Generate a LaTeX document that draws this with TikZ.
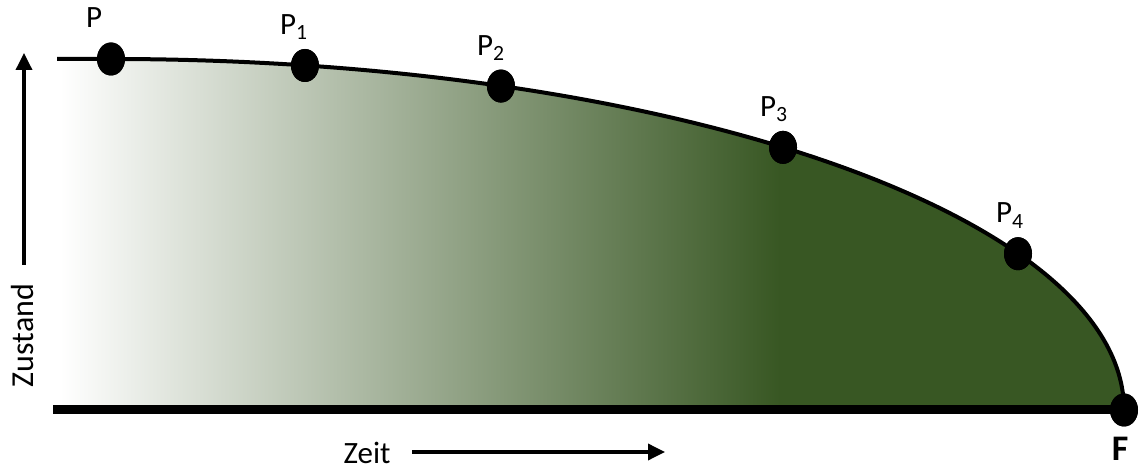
\documentclass[tikz,border=0pt]{standalone}
\usepackage{fontspec}
\setmainfont{Carlito}
\usetikzlibrary{arrows.meta,shapes.geometric}
\definecolor{zgreen}{HTML}{385723}
\begin{document}
\begin{tikzpicture}[x=1pt,y=1pt,
  dot/.style={ellipse,fill=black,inner sep=0pt,minimum width=28pt,minimum height=33pt},
  lbl/.style={anchor=base west,font=\fontsize{31}{36}\selectfont,inner sep=0pt},
  axisarrow/.style={line width=3.5pt,-{Triangle[length=17pt,width=16pt]}},
  curveline/.style={line width=4pt},
  baseline/.style={line width=9pt},
]
\useasboundingbox (0,0) rectangle (1139,470);
\coordinate (c) at (111,60);
% filled region with gradient
\begin{scope}
\clip (60,60) -- (60,411) -- (111,411) arc[start angle=90,end angle=0,x radius=1013,y radius=351] -- cycle;
\shade[left color=white,right color=zgreen] (60,60) rectangle (780,411);
\fill[zgreen] (779.5,60) rectangle (1130,411);
\end{scope}
% dots
\node[dot] (p) at (111,411) {};
\path (c) ++(78.96:1013pt and 351pt) node[dot] (p1) {};
\path (c) ++(67.36:1013pt and 351pt) node[dot] (p2) {};
\path (c) ++(48.44:1013pt and 351pt) node[dot] (p3) {};
\path (c) ++(26.44:1013pt and 351pt) node[dot] (p4) {};
\node[dot] (f) at (1124,60) {};
% base line and curve
\coordinate (o) at (53,60);
\coordinate (s) at (57,411);
\draw[baseline] (o) -- (f.center);
\draw[curveline] (s) -- (p.center) arc[start angle=90,end angle=0,x radius=1013,y radius=351];
% redraw dots on top
\foreach \n in {p,p1,p2,p3,p4,f} \fill (\n.center) ellipse[x radius=14pt,y radius=16.5pt];
% labels
\node[lbl] (lp) at ([shift={(-25,31)}]p.center) {P};
\node[lbl] (lp1) at ([shift={(-25,31)}]p1.center) {P\textsubscript{1}};
\node[lbl] (lp2) at ([shift={(-24,31)}]p2.center) {P\textsubscript{2}};
\node[lbl] (lp3) at ([shift={(-23,31)}]p3.center) {P\textsubscript{3}};
\node[lbl] (lp4) at ([shift={(-22,31)}]p4.center) {P\textsubscript{4}};
\node[anchor=base,inner sep=0pt,font=\bfseries\fontsize{36}{40}\selectfont] (lf) at (1120,9) {F};
% axes
\coordinate (ya) at (24,205);
\coordinate (yb) at (24,417);
\draw[axisarrow] (ya) -- (yb);
\coordinate (xa) at (412,18);
\coordinate (xb) at (665,18);
\draw[axisarrow] (xa) -- (xb);
\node[rotate=90,anchor=base,inner sep=0pt,font=\fontsize{32}{36}\selectfont] (lz) at (33,134.5) {Zustand};
\node[anchor=base,inner sep=0pt,font=\fontsize{31}{36}\selectfont] (lzeit) at (367,6) {Zeit};
\end{tikzpicture}
\end{document}
